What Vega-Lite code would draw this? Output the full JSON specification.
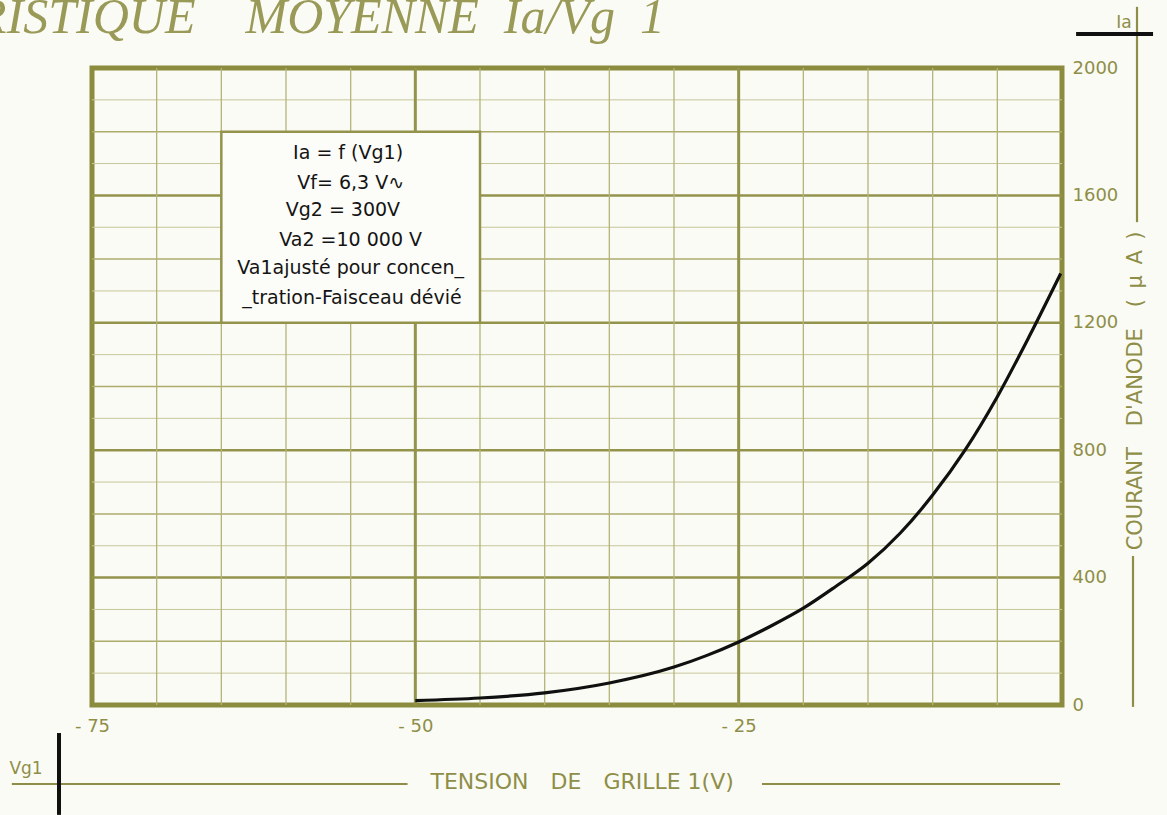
{
  "$schema": "https://vega.github.io/schema/vega-lite/v6.json",
  "width": 970,
  "height": 637,
  "autosize": {"type": "none"},
  "padding": {"left": 92, "top": 68, "right": 105, "bottom": 110},
  "background": "#fbfbf5",
  "config": {
    "view": {"stroke": "#8c8c3e", "strokeWidth": 5},
    "font": "DejaVu Sans"
  },
  "datasets": {
    "curve": [
      {"vg1": -50, "ia": 14},
      {"vg1": -45, "ia": 22},
      {"vg1": -40, "ia": 38},
      {"vg1": -35, "ia": 69},
      {"vg1": -30, "ia": 119},
      {"vg1": -27.5, "ia": 155},
      {"vg1": -25, "ia": 198},
      {"vg1": -22.5, "ia": 248},
      {"vg1": -20, "ia": 304},
      {"vg1": -17.5, "ia": 372},
      {"vg1": -15, "ia": 445},
      {"vg1": -12.5, "ia": 540},
      {"vg1": -10, "ia": 659},
      {"vg1": -7.5, "ia": 800},
      {"vg1": -5, "ia": 968},
      {"vg1": -2.5, "ia": 1160},
      {"vg1": -0.1, "ia": 1355}
    ],
    "hthin": [{"ia": 100}, {"ia": 300}, {"ia": 500}, {"ia": 700}, {"ia": 900}, {"ia": 1100}, {"ia": 1300}, {"ia": 1500}, {"ia": 1700}, {"ia": 1900}],
    "hmid": [{"ia": 200}, {"ia": 600}, {"ia": 1000}, {"ia": 1400}, {"ia": 1800}],
    "hthick": [{"ia": 400}, {"ia": 800}, {"ia": 1200}, {"ia": 1600}],
    "vthin": [{"vg1": -70}, {"vg1": -65}, {"vg1": -60}, {"vg1": -55}, {"vg1": -45}, {"vg1": -40}, {"vg1": -35}, {"vg1": -30}, {"vg1": -20}, {"vg1": -15}, {"vg1": -10}, {"vg1": -5}],
    "vthick": [{"vg1": -50}, {"vg1": -25}],
    "box": [{"x1": -65, "x2": -45, "y1": 1200, "y2": 1800}],
    "conditions": [
      {"x": -55.2, "y": 1733, "t": "Ia = f (Vg1)"},
      {"x": -55, "y": 1639, "t": "Vf= 6,3 V∿"},
      {"x": -55.6, "y": 1554, "t": "Vg2 = 300V"},
      {"x": -55, "y": 1460, "t": "Va2 =10 000 V"},
      {"x": -55, "y": 1372, "t": "Va1ajusté pour concen_"},
      {"x": -54.9, "y": 1278, "t": "_tration-Faisceau dévié"}
    ],
    "olivelines": [
      {"x1": -81.2, "x2": -50.6, "y1": -248, "y2": -248},
      {"x1": -23.2, "x2": -0.15, "y1": -248, "y2": -248},
      {"x1": 5.8, "x2": 5.8, "y1": 1516, "y2": 2192},
      {"x1": 5.49, "x2": 5.49, "y1": -6, "y2": 468}
    ],
    "blacklines": [
      {"x1": -77.55, "x2": -77.55, "y1": -88, "y2": -345},
      {"x1": 1.09, "x2": 7.04, "y1": 2107, "y2": 2107}
    ],
    "smalllabels": [
      {"x": 4.8, "y": 2140, "t": "Ia"},
      {"x": -80.1, "y": -201, "t": "Vg1"}
    ],
    "xtitle": [{"x": -37.1, "y": -242, "t": "TENSION\u2002\u2002DE\u2002\u2002GRILLE 1(V)"}],
    "ytitle": [{"x": 5.72, "y": 986, "t": "COURANT\u2003D'ANODE\u2003(\u2002µ\u2002A\u2002)"}],
    "maintitle": [{"x": -30.7, "y": 2110, "t": "CARACTÉRISTIQUE\u2003MOYENNE\u2002Ia/Vg\u20021"}]
  },
  "layer": [
    {
      "data": {"name": "hthin"},
      "mark": {"type": "rule", "color": "#c6c69a", "strokeWidth": 1},
      "encoding": {"y": {"field": "ia", "type": "quantitative", "scale": {"domain": [0, 2000], "nice": false, "zero": false}, "axis": {"orient": "right", "values": [0, 400, 800, 1200, 1600, 2000], "format": "d", "labelColor": "#8e8e48", "labelFontSize": 18, "labelFont": "DejaVu Sans", "labelAlign": "left", "labelBaseline": "middle", "labelPadding": 10, "labelFlush": false, "ticks": false, "domain": false, "grid": false, "title": null}}}
    },
    {
      "data": {"name": "hmid"},
      "mark": {"type": "rule", "color": "#abab6c", "strokeWidth": 1.5},
      "encoding": {"y": {"field": "ia", "type": "quantitative", "scale": {"domain": [0, 2000], "nice": false, "zero": false}, "axis": {"orient": "right", "values": [0, 400, 800, 1200, 1600, 2000], "format": "d", "labelColor": "#8e8e48", "labelFontSize": 18, "labelFont": "DejaVu Sans", "labelAlign": "left", "labelBaseline": "middle", "labelPadding": 10, "labelFlush": false, "ticks": false, "domain": false, "grid": false, "title": null}}}
    },
    {
      "data": {"name": "hthick"},
      "mark": {"type": "rule", "color": "#93934c", "strokeWidth": 2.5},
      "encoding": {"y": {"field": "ia", "type": "quantitative", "scale": {"domain": [0, 2000], "nice": false, "zero": false}, "axis": {"orient": "right", "values": [0, 400, 800, 1200, 1600, 2000], "format": "d", "labelColor": "#8e8e48", "labelFontSize": 18, "labelFont": "DejaVu Sans", "labelAlign": "left", "labelBaseline": "middle", "labelPadding": 10, "labelFlush": false, "ticks": false, "domain": false, "grid": false, "title": null}}}
    },
    {
      "data": {"name": "vthin"},
      "mark": {"type": "rule", "color": "#b4b47a", "strokeWidth": 1.3},
      "encoding": {"x": {"field": "vg1", "type": "quantitative", "scale": {"domain": [-75, 0], "nice": false, "zero": false}, "axis": {"orient": "bottom", "values": [-75, -50, -25], "labelExpr": "'- ' + abs(datum.value)", "labelColor": "#8e8e48", "labelFontSize": 18, "labelFont": "DejaVu Sans", "labelPadding": 12, "labelFlush": false, "ticks": false, "domain": false, "grid": false, "title": null}}}
    },
    {
      "data": {"name": "vthick"},
      "mark": {"type": "rule", "color": "#93934c", "strokeWidth": 3},
      "encoding": {"x": {"field": "vg1", "type": "quantitative", "scale": {"domain": [-75, 0], "nice": false, "zero": false}, "axis": {"orient": "bottom", "values": [-75, -50, -25], "labelExpr": "'- ' + abs(datum.value)", "labelColor": "#8e8e48", "labelFontSize": 18, "labelFont": "DejaVu Sans", "labelPadding": 12, "labelFlush": false, "ticks": false, "domain": false, "grid": false, "title": null}}}
    },
    {
      "data": {"name": "box"},
      "mark": {"type": "rect", "fill": "#fcfcf8", "stroke": "#93934c", "strokeWidth": 2.5},
      "encoding": {
        "x": {"field": "x1", "type": "quantitative", "scale": {"domain": [-75, 0], "nice": false, "zero": false}, "axis": {"orient": "bottom", "values": [-75, -50, -25], "labelExpr": "'- ' + abs(datum.value)", "labelColor": "#8e8e48", "labelFontSize": 18, "labelFont": "DejaVu Sans", "labelPadding": 12, "labelFlush": false, "ticks": false, "domain": false, "grid": false, "title": null}},
        "x2": {"field": "x2"},
        "y": {"field": "y1", "type": "quantitative", "scale": {"domain": [0, 2000], "nice": false, "zero": false}, "axis": {"orient": "right", "values": [0, 400, 800, 1200, 1600, 2000], "format": "d", "labelColor": "#8e8e48", "labelFontSize": 18, "labelFont": "DejaVu Sans", "labelAlign": "left", "labelBaseline": "middle", "labelPadding": 10, "labelFlush": false, "ticks": false, "domain": false, "grid": false, "title": null}},
        "y2": {"field": "y2"}
      }
    },
    {
      "data": {"name": "conditions"},
      "mark": {"type": "text", "fontSize": 19, "color": "#141414", "align": "center", "baseline": "middle", "font": "DejaVu Sans"},
      "encoding": {
        "x": {"field": "x", "type": "quantitative", "scale": {"domain": [-75, 0], "nice": false, "zero": false}, "axis": {"orient": "bottom", "values": [-75, -50, -25], "labelExpr": "'- ' + abs(datum.value)", "labelColor": "#8e8e48", "labelFontSize": 18, "labelFont": "DejaVu Sans", "labelPadding": 12, "labelFlush": false, "ticks": false, "domain": false, "grid": false, "title": null}},
        "y": {"field": "y", "type": "quantitative", "scale": {"domain": [0, 2000], "nice": false, "zero": false}, "axis": {"orient": "right", "values": [0, 400, 800, 1200, 1600, 2000], "format": "d", "labelColor": "#8e8e48", "labelFontSize": 18, "labelFont": "DejaVu Sans", "labelAlign": "left", "labelBaseline": "middle", "labelPadding": 10, "labelFlush": false, "ticks": false, "domain": false, "grid": false, "title": null}},
        "text": {"field": "t"}
      }
    },
    {
      "data": {"name": "curve"},
      "mark": {"type": "line", "color": "#101010", "strokeWidth": 3.2, "interpolate": "monotone"},
      "encoding": {
        "x": {"field": "vg1", "type": "quantitative", "scale": {"domain": [-75, 0], "nice": false, "zero": false}, "axis": {"orient": "bottom", "values": [-75, -50, -25], "labelExpr": "'- ' + abs(datum.value)", "labelColor": "#8e8e48", "labelFontSize": 18, "labelFont": "DejaVu Sans", "labelPadding": 12, "labelFlush": false, "ticks": false, "domain": false, "grid": false, "title": null}},
        "y": {"field": "ia", "type": "quantitative", "scale": {"domain": [0, 2000], "nice": false, "zero": false}, "axis": {"orient": "right", "values": [0, 400, 800, 1200, 1600, 2000], "format": "d", "labelColor": "#8e8e48", "labelFontSize": 18, "labelFont": "DejaVu Sans", "labelAlign": "left", "labelBaseline": "middle", "labelPadding": 10, "labelFlush": false, "ticks": false, "domain": false, "grid": false, "title": null}}
      }
    },
    {
      "data": {"name": "olivelines"},
      "mark": {"type": "rule", "color": "#8e8e48", "strokeWidth": 2.2},
      "encoding": {
        "x": {"field": "x1", "type": "quantitative", "scale": {"domain": [-75, 0], "nice": false, "zero": false}, "axis": {"orient": "bottom", "values": [-75, -50, -25], "labelExpr": "'- ' + abs(datum.value)", "labelColor": "#8e8e48", "labelFontSize": 18, "labelFont": "DejaVu Sans", "labelPadding": 12, "labelFlush": false, "ticks": false, "domain": false, "grid": false, "title": null}},
        "x2": {"field": "x2"},
        "y": {"field": "y1", "type": "quantitative", "scale": {"domain": [0, 2000], "nice": false, "zero": false}, "axis": {"orient": "right", "values": [0, 400, 800, 1200, 1600, 2000], "format": "d", "labelColor": "#8e8e48", "labelFontSize": 18, "labelFont": "DejaVu Sans", "labelAlign": "left", "labelBaseline": "middle", "labelPadding": 10, "labelFlush": false, "ticks": false, "domain": false, "grid": false, "title": null}},
        "y2": {"field": "y2"}
      }
    },
    {
      "data": {"name": "blacklines"},
      "mark": {"type": "rule", "color": "#101010", "strokeWidth": 4},
      "encoding": {
        "x": {"field": "x1", "type": "quantitative", "scale": {"domain": [-75, 0], "nice": false, "zero": false}, "axis": {"orient": "bottom", "values": [-75, -50, -25], "labelExpr": "'- ' + abs(datum.value)", "labelColor": "#8e8e48", "labelFontSize": 18, "labelFont": "DejaVu Sans", "labelPadding": 12, "labelFlush": false, "ticks": false, "domain": false, "grid": false, "title": null}},
        "x2": {"field": "x2"},
        "y": {"field": "y1", "type": "quantitative", "scale": {"domain": [0, 2000], "nice": false, "zero": false}, "axis": {"orient": "right", "values": [0, 400, 800, 1200, 1600, 2000], "format": "d", "labelColor": "#8e8e48", "labelFontSize": 18, "labelFont": "DejaVu Sans", "labelAlign": "left", "labelBaseline": "middle", "labelPadding": 10, "labelFlush": false, "ticks": false, "domain": false, "grid": false, "title": null}},
        "y2": {"field": "y2"}
      }
    },
    {
      "data": {"name": "smalllabels"},
      "mark": {"type": "text", "fontSize": 17, "color": "#8e8e48", "align": "center", "baseline": "middle", "font": "DejaVu Sans"},
      "encoding": {
        "x": {"field": "x", "type": "quantitative", "scale": {"domain": [-75, 0], "nice": false, "zero": false}, "axis": {"orient": "bottom", "values": [-75, -50, -25], "labelExpr": "'- ' + abs(datum.value)", "labelColor": "#8e8e48", "labelFontSize": 18, "labelFont": "DejaVu Sans", "labelPadding": 12, "labelFlush": false, "ticks": false, "domain": false, "grid": false, "title": null}},
        "y": {"field": "y", "type": "quantitative", "scale": {"domain": [0, 2000], "nice": false, "zero": false}, "axis": {"orient": "right", "values": [0, 400, 800, 1200, 1600, 2000], "format": "d", "labelColor": "#8e8e48", "labelFontSize": 18, "labelFont": "DejaVu Sans", "labelAlign": "left", "labelBaseline": "middle", "labelPadding": 10, "labelFlush": false, "ticks": false, "domain": false, "grid": false, "title": null}},
        "text": {"field": "t"}
      }
    },
    {
      "data": {"name": "xtitle"},
      "mark": {"type": "text", "fontSize": 22, "color": "#8e8e48", "align": "center", "baseline": "middle", "font": "DejaVu Sans"},
      "encoding": {
        "x": {"field": "x", "type": "quantitative", "scale": {"domain": [-75, 0], "nice": false, "zero": false}, "axis": {"orient": "bottom", "values": [-75, -50, -25], "labelExpr": "'- ' + abs(datum.value)", "labelColor": "#8e8e48", "labelFontSize": 18, "labelFont": "DejaVu Sans", "labelPadding": 12, "labelFlush": false, "ticks": false, "domain": false, "grid": false, "title": null}},
        "y": {"field": "y", "type": "quantitative", "scale": {"domain": [0, 2000], "nice": false, "zero": false}, "axis": {"orient": "right", "values": [0, 400, 800, 1200, 1600, 2000], "format": "d", "labelColor": "#8e8e48", "labelFontSize": 18, "labelFont": "DejaVu Sans", "labelAlign": "left", "labelBaseline": "middle", "labelPadding": 10, "labelFlush": false, "ticks": false, "domain": false, "grid": false, "title": null}},
        "text": {"field": "t"}
      }
    },
    {
      "data": {"name": "ytitle"},
      "mark": {"type": "text", "fontSize": 21, "color": "#8e8e48", "align": "center", "baseline": "middle", "angle": 270, "font": "DejaVu Sans"},
      "encoding": {
        "x": {"field": "x", "type": "quantitative", "scale": {"domain": [-75, 0], "nice": false, "zero": false}, "axis": {"orient": "bottom", "values": [-75, -50, -25], "labelExpr": "'- ' + abs(datum.value)", "labelColor": "#8e8e48", "labelFontSize": 18, "labelFont": "DejaVu Sans", "labelPadding": 12, "labelFlush": false, "ticks": false, "domain": false, "grid": false, "title": null}},
        "y": {"field": "y", "type": "quantitative", "scale": {"domain": [0, 2000], "nice": false, "zero": false}, "axis": {"orient": "right", "values": [0, 400, 800, 1200, 1600, 2000], "format": "d", "labelColor": "#8e8e48", "labelFontSize": 18, "labelFont": "DejaVu Sans", "labelAlign": "left", "labelBaseline": "middle", "labelPadding": 10, "labelFlush": false, "ticks": false, "domain": false, "grid": false, "title": null}},
        "text": {"field": "t"}
      }
    },
    {
      "data": {"name": "maintitle"},
      "mark": {"type": "text", "fontSize": 50, "color": "#9a9a58", "align": "right", "baseline": "alphabetic", "font": "Liberation Serif", "fontStyle": "italic"},
      "encoding": {
        "x": {"field": "x", "type": "quantitative", "scale": {"domain": [-75, 0], "nice": false, "zero": false}, "axis": {"orient": "bottom", "values": [-75, -50, -25], "labelExpr": "'- ' + abs(datum.value)", "labelColor": "#8e8e48", "labelFontSize": 18, "labelFont": "DejaVu Sans", "labelPadding": 12, "labelFlush": false, "ticks": false, "domain": false, "grid": false, "title": null}},
        "y": {"field": "y", "type": "quantitative", "scale": {"domain": [0, 2000], "nice": false, "zero": false}, "axis": {"orient": "right", "values": [0, 400, 800, 1200, 1600, 2000], "format": "d", "labelColor": "#8e8e48", "labelFontSize": 18, "labelFont": "DejaVu Sans", "labelAlign": "left", "labelBaseline": "middle", "labelPadding": 10, "labelFlush": false, "ticks": false, "domain": false, "grid": false, "title": null}},
        "text": {"field": "t"}
      }
    }
  ]
}
